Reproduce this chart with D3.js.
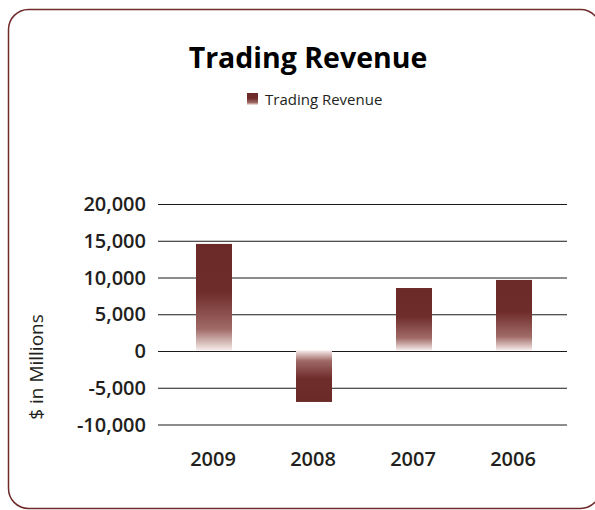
<!DOCTYPE html>
<html>
<head>
<meta charset="utf-8">
<script src="https://cdn.jsdelivr.net/npm/d3@7"></script>
<style>
  html, body { margin: 0; padding: 0; background: #fff; }
  svg { display: block; }
</style>
</head>
<body>
<svg id="chart" width="595" height="510"></svg>
<script>
const categories = ["2009", "2008", "2007", "2006"];
const values = [14500, -7000, 8500, 9600];
const yTicks = [-10000, -5000, 0, 5000, 10000, 15000, 20000];
const seriesName = "Trading Revenue";
const titleText = "Trading Revenue";
const yTitle = "$ in Millions";

const svg = d3.select("#chart");

const defs = svg.append("defs");
function grad(id, x1, y1, x2, y2) {
  const g = defs.append("linearGradient").attr("id", id)
    .attr("x1", x1).attr("y1", y1).attr("x2", x2).attr("y2", y2);
  g.append("stop").attr("offset", "0").attr("stop-color", "#6b2928");
  g.append("stop").attr("offset", "0.45").attr("stop-color", "#6e2c2a");
  g.append("stop").attr("offset", "0.8").attr("stop-color", "#a06a67");
  g.append("stop").attr("offset", "1").attr("stop-color", "#f6ecea");
}
grad("gPos", 0, 0, 0, 1);
grad("gNeg", 0, 1, 0, 0);

// border
svg.append("rect")
  .attr("x", 8.5).attr("y", 9.5).attr("width", 592).attr("height", 499)
  .attr("rx", 20).attr("ry", 20)
  .attr("fill", "none").attr("stroke", "#6f2a2a").attr("stroke-width", 1.5);

const y = d3.scaleLinear().domain([-10000, 20000]).range([424, 203.5]);
const x = d3.scaleBand().domain(categories).range([164, 564])
  .paddingInner(0.64).paddingOuter(0.32);

const fmt = d3.format(",");

// gridlines + y labels
const yAxis = d3.axisLeft(y).tickValues(yTicks)
  .tickSize(-(567 - 158)).tickPadding(12)
  .tickFormat(d => d < 0 ? "-" + fmt(-d) : fmt(d));
const gy = svg.append("g").attr("transform", "translate(158,0)").call(yAxis);
gy.select(".domain").remove();
gy.selectAll(".tick line").attr("stroke", "#1a1a1a").attr("stroke-width", 1)
  .attr("transform", "translate(0,0.5)");
gy.selectAll(".tick text")
  .attr("font-family", "'Open Sans', sans-serif")
  .attr("font-weight", 600).attr("font-size", 20).attr("fill", "#231f20")
  .attr("x", -12).attr("dy", "0.36em");

// bars
svg.append("g").selectAll("rect").data(values).join("rect")
  .attr("x", (d, i) => x(categories[i]))
  .attr("width", x.bandwidth())
  .attr("y", d => y(Math.max(0, d)))
  .attr("height", d => Math.abs(y(d) - y(0)))
  .attr("fill", d => d >= 0 ? "url(#gPos)" : "url(#gNeg)");

// x labels
const xAxis = d3.axisBottom(x).tickSize(0).tickPadding(0);
const gx = svg.append("g").attr("transform", "translate(-1,452)").call(xAxis);
gx.select(".domain").remove();
gx.selectAll(".tick text")
  .attr("font-family", "'Open Sans', sans-serif")
  .attr("font-weight", 600).attr("font-size", 20).attr("fill", "#231f20")
  .attr("dy", "0.71em");

// title
svg.append("text").attr("x", 308).attr("y", 68)
  .attr("text-anchor", "middle")
  .attr("font-family", "'Open Sans', sans-serif")
  .attr("font-weight", 700).attr("font-size", 28.5).attr("fill", "#000")
  .text(titleText);

// legend
svg.append("rect").attr("x", 247).attr("y", 93).attr("width", 11).attr("height", 12)
  .attr("fill", "url(#gPos)");
svg.append("text").attr("x", 265).attr("y", 105)
  .attr("font-family", "'Open Sans', sans-serif")
  .attr("font-size", 15).attr("fill", "#231f20")
  .text(seriesName);

// y title
svg.append("text")
  .attr("transform", "translate(43,367) rotate(-90)")
  .attr("text-anchor", "middle")
  .attr("font-family", "'Open Sans', sans-serif")
  .attr("font-size", 19).attr("fill", "#231f20")
  .text(yTitle);
</script>
</body>
</html>
